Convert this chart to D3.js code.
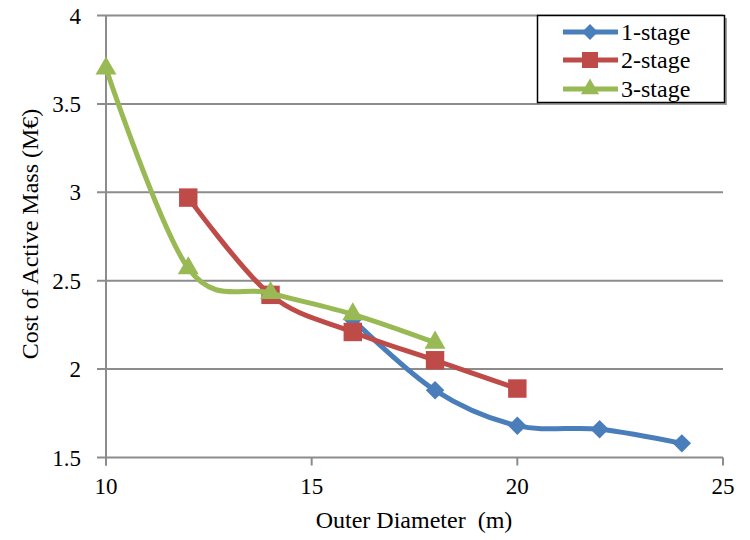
<!DOCTYPE html>
<html>
<head>
<meta charset="utf-8">
<script src="https://cdn.jsdelivr.net/npm/d3@7"></script>
<style>
  body { margin: 0; background: #fff; }
  text { font-family: "Liberation Serif", "Times New Roman", serif; fill: #000; }
</style>
</head>
<body>
<div id="chart"></div>
<script>
// data
var stage1X = [16, 18, 20, 22, 24];
var stage1Y = [2.28, 1.88, 1.68, 1.66, 1.58];
var stage2X = [12, 14, 16, 18, 20];
var stage2Y = [2.97, 2.42, 2.21, 2.05, 1.89];
var stage3X = [10, 12, 14, 16, 18];
var stage3Y = [3.70, 2.57, 2.43, 2.31, 2.15];
var xTicks = [10, 15, 20, 25];
var yTicks = [1.5, 2, 2.5, 3, 3.5, 4];
var seriesNames = ["1-stage", "2-stage", "3-stage"];

var width = 750, height = 540;

var svg = d3.select("#chart")
  .append("svg")
  .attr("width", width)
  .attr("height", height);

var x = d3.scaleLinear().domain([10, 25]).range([106, 723]);
var y = d3.scaleLinear().domain([1.5, 4]).range([457.5, 15.5]);

var gridColor = "#8c8c8c";

// horizontal gridlines
svg.append("g")
  .selectAll("line")
  .data(yTicks)
  .enter()
  .append("line")
  .attr("x1", x(10) - 9)
  .attr("x2", x(25))
  .attr("y1", d => y(d))
  .attr("y2", d => y(d))
  .attr("stroke", gridColor)
  .attr("stroke-width", 2);

// y axis line
svg.append("line")
  .attr("x1", x(10)).attr("x2", x(10))
  .attr("y1", y(4)).attr("y2", y(1.5) + 8)
  .attr("stroke", gridColor)
  .attr("stroke-width", 2);

// x tick marks
svg.append("g")
  .selectAll("line")
  .data(xTicks)
  .enter()
  .append("line")
  .attr("x1", d => x(d)).attr("x2", d => x(d))
  .attr("y1", y(1.5)).attr("y2", y(1.5) + 8)
  .attr("stroke", gridColor)
  .attr("stroke-width", 2);

// tick labels
svg.append("g")
  .selectAll("text")
  .data(yTicks)
  .enter()
  .append("text")
  .attr("x", 81)
  .attr("y", d => y(d) + 8)
  .attr("text-anchor", "end")
  .style("font-size", "23px")
  .text(d => d);

svg.append("g")
  .selectAll("text")
  .data(xTicks)
  .enter()
  .append("text")
  .attr("x", d => x(d))
  .attr("y", 494)
  .attr("text-anchor", "middle")
  .style("font-size", "23px")
  .text(d => d);

// axis titles
svg.append("text")
  .attr("x", 414)
  .attr("y", 528)
  .attr("text-anchor", "middle")
  .style("font-size", "24px")
  .style("white-space", "pre")
  .text("Outer Diameter\u00a0\u00a0(m)");

svg.append("text")
  .attr("transform", "translate(38,234) rotate(-90)")
  .attr("text-anchor", "middle")
  .style("font-size", "24px")
  .text("Cost of Active Mass (M\u20ac)");

// excel style diamond: a square turned 45 degrees
var diamond = {
  draw: function (context, size) {
    var r = Math.sqrt(size / 2);
    context.moveTo(0, -r);
    context.lineTo(r, 0);
    context.lineTo(0, r);
    context.lineTo(-r, 0);
    context.closePath();
  }
};

// series
var series = [
  { name: seriesNames[0], xs: stage1X, ys: stage1Y, color: "#4a7ebb", symbol: diamond, size: 170 },
  { name: seriesNames[1], xs: stage2X, ys: stage2Y, color: "#be4b48", symbol: d3.symbolSquare, size: 340 },
  { name: seriesNames[2], xs: stage3X, ys: stage3Y, color: "#98b954", symbol: d3.symbolTriangle, size: 190 }
];

var line = d3.line()
  .x(d => x(d[0]))
  .y(d => y(d[1]))
  .curve(d3.curveCatmullRom.alpha(0));

series.forEach(function (s) {
  var pts = s.xs.map((v, i) => [v, s.ys[i]]);
  var g = svg.append("g");
  g.append("path")
    .datum(pts)
    .attr("d", line)
    .attr("fill", "none")
    .attr("stroke", s.color)
    .attr("stroke-width", 5)
    .attr("stroke-linejoin", "round");
  g.selectAll("path.marker")
    .data(pts)
    .enter()
    .append("path")
    .attr("class", "marker")
    .attr("d", d3.symbol().type(s.symbol).size(s.size))
    .attr("transform", d => "translate(" + x(d[0]) + "," + y(d[1]) + ")")
    .attr("fill", s.color);
});

// legend
var legend = svg.append("g");
legend.append("rect")
  .attr("x", 540).attr("y", 18)
  .attr("width", 187).attr("height", 87)
  .attr("fill", "#a0a0a0");
legend.append("rect")
  .attr("x", 537.5).attr("y", 15.5)
  .attr("width", 187).attr("height", 87)
  .attr("fill", "#fff")
  .attr("stroke", "#000")
  .attr("stroke-width", 1.5);

var rowY = [32, 60, 89];
series.forEach(function (s, i) {
  legend.append("line")
    .attr("x1", 563).attr("x2", 618)
    .attr("y1", rowY[i]).attr("y2", rowY[i])
    .attr("stroke", s.color)
    .attr("stroke-width", 5);
  legend.append("path")
    .attr("d", d3.symbol().type(s.symbol).size(s.size * 0.75))
    .attr("transform", "translate(590," + rowY[i] + ")")
    .attr("fill", s.color);
  legend.append("text")
    .attr("x", 621)
    .attr("y", rowY[i] + 8)
    .style("font-size", "24px")
    .text(s.name);
});
</script>
</body>
</html>
